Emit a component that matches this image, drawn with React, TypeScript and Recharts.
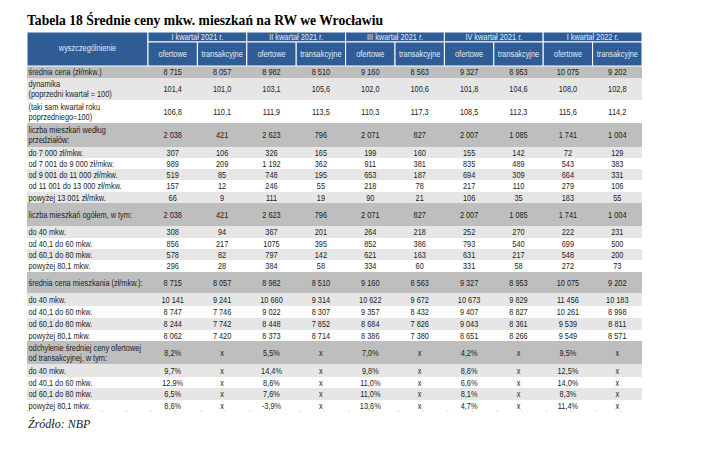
import React from "react";
import { ComposedChart, XAxis, YAxis, ReferenceArea, ReferenceLine, Scatter } from "recharts";

// ---------------- DATA ----------------
const title = "Tabela 18 Średnie ceny mkw. mieszkań na RW we Wrocławiu";
const source = "Źródło: NBP";
const headerLabel = "wyszczególnienie";
const quarters = ["I kwartał 2021 r.", "II kwartał 2021 r.", "III kwartał 2021 r.", "IV kwartał 2021 r.", "I kwartał 2022 r."];
const priceTypes = ["ofertowe", "transakcyjne"];

const rowLabels = [
  "średnia cena (zł/mkw.)",
  "dynamika\n(poprzedni kwartał = 100)",
  "(taki sam kwartał roku\npoprzedniego=100)",
  "liczba mieszkań według\nprzedziałów:",
  "do 7 000 zł/mkw.",
  "od 7 001 do 9 000 zł/mkw.",
  "od 9 001 do 11 000 zł/mkw.",
  "od 11 001 do 13 000 zł/mkw.",
  "powyżej 13 001 zł/mkw.",
  "liczba mieszkań ogółem, w tym:",
  "do 40 mkw.",
  "od 40,1 do 60 mkw.",
  "od 60,1 do 80 mkw.",
  "powyżej 80,1 mkw.",
  "średnia cena mieszkania (zł/mkw.):",
  "do 40 mkw.",
  "od 40,1 do 60 mkw.",
  "od 60,1 do 80 mkw.",
  "powyżej 80,1 mkw.",
  "odchylenie średniej ceny ofertowej\nod transakcyjnej, w tym:",
  "do 40 mkw.",
  "od 40,1 do 60 mkw.",
  "od 60,1 do 80 mkw.",
  "powyżej 80,1 mkw.",
];

const q1_2021_ofertowe = ["8 715", "101,4", "106,8", "2 038", "307", "989", "519", "157", "66", "2 038", "308", "856", "578", "296", "8 715", "10 141", "8 747", "8 244", "8 062", "8,2%", "9,7%", "12,9%", "6,5%", "8,6%"];
const q1_2021_transakcyjne = ["8 057", "101,0", "110,1", "421", "106", "209", "85", "12", "9", "421", "94", "217", "82", "28", "8 057", "9 241", "7 746", "7 742", "7 420", "x", "x", "x", "x", "x"];
const q2_2021_ofertowe = ["8 982", "103,1", "111,9", "2 623", "326", "1 192", "748", "246", "111", "2 623", "367", "1075", "797", "384", "8 982", "10 660", "9 022", "8 448", "8 373", "5,5%", "14,4%", "8,6%", "7,6%", "-3,9%"];
const q2_2021_transakcyjne = ["8 510", "105,6", "113,5", "796", "165", "362", "195", "55", "19", "796", "201", "395", "142", "58", "8 510", "9 314", "8 307", "7 852", "8 714", "x", "x", "x", "x", "x"];
const q3_2021_ofertowe = ["9 160", "102,0", "110,3", "2 071", "199", "911", "653", "218", "90", "2 071", "264", "852", "621", "334", "9 160", "10 622", "9 357", "8 684", "8 386", "7,0%", "9,8%", "11,0%", "11,0%", "13,6%"];
const q3_2021_transakcyjne = ["8 563", "100,6", "117,3", "827", "160", "381", "187", "78", "21", "827", "218", "386", "163", "60", "8 563", "9 672", "8 432", "7 826", "7 380", "x", "x", "x", "x", "x"];
const q4_2021_ofertowe = ["9 327", "101,8", "108,5", "2 007", "155", "835", "694", "217", "106", "2 007", "252", "793", "631", "331", "9 327", "10 673", "9 407", "9 043", "8 651", "4,2%", "8,6%", "6,6%", "8,1%", "4,7%"];
const q4_2021_transakcyjne = ["8 953", "104,6", "112,3", "1 085", "142", "489", "309", "110", "35", "1 085", "270", "540", "217", "58", "8 953", "9 829", "8 827", "8 361", "8 266", "x", "x", "x", "x", "x"];
const q1_2022_ofertowe = ["10 075", "108,0", "115,6", "1 741", "72", "543", "664", "279", "183", "1 741", "222", "699", "548", "272", "10 075", "11 456", "10 261", "9 539", "9 549", "9,5%", "12,5%", "14,0%", "8,3%", "11,4%"];
const q1_2022_transakcyjne = ["9 202", "102,8", "114,2", "1 004", "129", "383", "331", "106", "55", "1 004", "231", "500", "200", "73", "9 202", "10 183", "8 998", "8 811", "8 571", "x", "x", "x", "x", "x"];

const valueColumns = [
  q1_2021_ofertowe, q1_2021_transakcyjne,
  q2_2021_ofertowe, q2_2021_transakcyjne,
  q3_2021_ofertowe, q3_2021_transakcyjne,
  q4_2021_ofertowe, q4_2021_transakcyjne,
  q1_2022_ofertowe, q1_2022_transakcyjne,
];

// ---------------- LAYOUT / STYLE ----------------
const CHART_W = 680;
const CHART_H = 460;
const MARGIN = { top: 24, left: 19, right: 46, bottom: 57 };
const TABLE_W = 615;
const LABEL_COL_W = 121;
const VALUE_COL_W = (TABLE_W - LABEL_COL_W) / 10;
const HEADER_ROW1_H = 10;
const HEADER_ROW2_H = 24;
const HEADER_H = HEADER_ROW1_H + HEADER_ROW2_H;
const ROW_HEIGHTS = [12, 22, 23, 24, 11, 11, 11, 12, 11, 23, 12, 11, 11, 12, 21, 13, 12, 12, 11, 23, 13, 11, 12, 11];
const ROW_STYLES = ["dark", "light", "white", "dark", "light", "white", "light", "white", "light", "dark", "light", "white", "light", "white", "dark", "light", "white", "light", "white", "dark", "light", "white", "light", "white"];
const FILLS: Record<string, string> = { dark: "#bebebe", light: "#e6e6e6", white: "#ffffff" };
const HEADER_BLUE = "#2f5c95";
const HEADER_TEXT = "#e4ebf3";
const BODY_TEXT = "#1c1c1c";
const TABLE_FONT = "'Liberation Sans', Arial, sans-serif";
const TEXT_SCALE_X = 0.8;
const TOTAL_H = HEADER_H + ROW_HEIGHTS.reduce((a, b) => a + b, 0);

const rowTops: number[] = [];
{
  let acc = HEADER_H;
  for (const h of ROW_HEIGHTS) {
    rowTops.push(acc);
    acc += h;
  }
}

type Cell = { x: number; y: number; text: string; anchor: string; color: string };

const cells: Cell[] = [];
cells.push({ x: LABEL_COL_W / 2, y: HEADER_H / 2 - 1, text: headerLabel, anchor: "middle", color: HEADER_TEXT });
quarters.forEach((q, i) => {
  cells.push({ x: LABEL_COL_W + (2 * i + 1) * VALUE_COL_W, y: HEADER_ROW1_H / 2, text: q, anchor: "middle", color: HEADER_TEXT });
  priceTypes.forEach((p, j) => {
    cells.push({ x: LABEL_COL_W + (2 * i + j + 0.5) * VALUE_COL_W, y: HEADER_ROW1_H + HEADER_ROW2_H / 2, text: p, anchor: "middle", color: HEADER_TEXT });
  });
});
rowLabels.forEach((label, r) => {
  const cy = rowTops[r] + ROW_HEIGHTS[r] / 2;
  cells.push({ x: 1.5, y: cy, text: label, anchor: "start", color: BODY_TEXT });
  valueColumns.forEach((col, c) => {
    cells.push({ x: LABEL_COL_W + (c + 0.5) * VALUE_COL_W, y: cy, text: col[r], anchor: "middle", color: BODY_TEXT });
  });
});

const TextShape = (props: any) => {
  const { cx, cy, payload } = props;
  if (cx == null || cy == null || !payload) return <g />;
  const lines = String(payload.text).split("\n");
  const lh = 10;
  const start = -((lines.length - 1) * lh) / 2;
  return (
    <g transform={`translate(${cx},0) scale(${TEXT_SCALE_X},1)`}>
      <text textAnchor={payload.anchor} fontFamily={TABLE_FONT} fontSize={9.2} fill={payload.color}>
        {lines.map((l: string, i: number) => (
          <tspan key={i} x={0} y={cy + start + i * lh} dy="0.35em">
            {l}
          </tspan>
        ))}
      </text>
    </g>
  );
};

export default function App() {
  return (
    <div style={{ position: "relative", width: CHART_W, height: CHART_H, background: "#ffffff" }}>
      <ComposedChart width={CHART_W} height={CHART_H} margin={MARGIN} data={cells}>
        <XAxis type="number" dataKey="x" domain={[0, TABLE_W]} hide allowDataOverflow />
        <YAxis type="number" dataKey="y" domain={[0, TOTAL_H]} reversed hide allowDataOverflow />
        {ROW_HEIGHTS.map((h, r) => (
          <ReferenceArea
            key={"row" + r}
            x1={0}
            x2={TABLE_W}
            y1={rowTops[r]}
            y2={rowTops[r] + h}
            fill={FILLS[ROW_STYLES[r]]}
            fillOpacity={1}
            stroke="none"
          />
        ))}
        <ReferenceArea x1={0} x2={LABEL_COL_W} y1={0} y2={HEADER_H} fill={HEADER_BLUE} fillOpacity={1} stroke="#ffffff" strokeWidth={1} />
        {quarters.map((q, i) => (
          <ReferenceArea
            key={"qh" + i}
            x1={LABEL_COL_W + 2 * i * VALUE_COL_W}
            x2={LABEL_COL_W + (2 * i + 2) * VALUE_COL_W}
            y1={0}
            y2={HEADER_ROW1_H}
            fill={HEADER_BLUE}
            fillOpacity={1}
            stroke="#ffffff"
            strokeWidth={1}
          />
        ))}
        {valueColumns.map((_, c) => (
          <ReferenceArea
            key={"sh" + c}
            x1={LABEL_COL_W + c * VALUE_COL_W}
            x2={LABEL_COL_W + (c + 1) * VALUE_COL_W}
            y1={HEADER_ROW1_H}
            y2={HEADER_H}
            fill={HEADER_BLUE}
            fillOpacity={1}
            stroke="#ffffff"
            strokeWidth={1}
          />
        ))}
        <ReferenceLine y={TOTAL_H} stroke="#d0d0d0" strokeWidth={1} strokeDasharray="1.5 23.2" />
        <Scatter data={cells} dataKey="y" shape={TextShape} isAnimationActive={false} />
      </ComposedChart>
      <svg width={CHART_W} height={CHART_H} style={{ position: "absolute", left: 0, top: 0, pointerEvents: "none" }}>
        <text
          x={19}
          y={17}
          fontFamily="'Liberation Serif', 'Times New Roman', serif"
          fontWeight="bold"
          fontSize={15}
          textLength={356}
          lengthAdjust="spacingAndGlyphs"
          fill="#000"
        >
          {title}
        </text>
        <text x={20} y={420} fontFamily="'Liberation Serif', 'Times New Roman', serif" fontStyle="italic" fontSize={12} fill="#222">
          {source}
        </text>
      </svg>
    </div>
  );
}
